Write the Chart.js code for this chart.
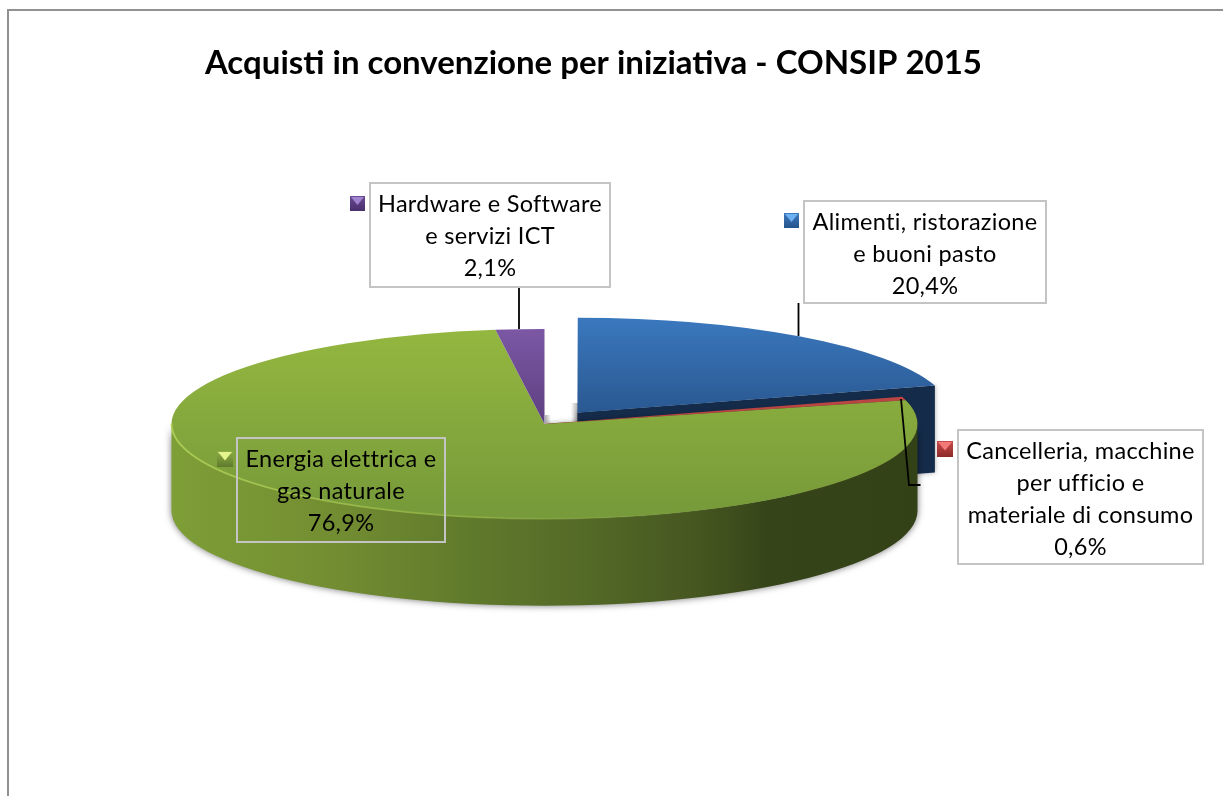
<!DOCTYPE html>
<html lang="it">
<head>
<meta charset="utf-8">
<title>Acquisti in convenzione per iniziativa - CONSIP 2015</title>
<style>
  html, body { margin: 0; padding: 0; background: #fff; }
  canvas { display: block; }
</style>
<script src="https://cdn.jsdelivr.net/npm/chart.js@4/dist/chart.umd.min.js"></script>
</head>
<body>
<canvas id="pie" width="1223" height="796"></canvas>
<script>
"use strict";

const TITLE = "Acquisti in convenzione per iniziativa - CONSIP 2015";
const categories = [
  "Alimenti, ristorazione e buoni pasto",
  "Cancelleria, macchine per ufficio e materiale di consumo",
  "Energia elettrica e gas naturale",
  "Hardware e Software e servizi ICT",
];
const values = [20.4, 0.6, 76.9, 2.1];
const labelLines = [
  ["Alimenti, ristorazione", "e buoni pasto"],
  ["Cancelleria, macchine", "per ufficio e", "materiale di consumo"],
  ["Energia elettrica e", "gas naturale"],
  ["Hardware e Software", "e servizi ICT"],
];

// ─── Look of the pie ───────────────────────────────────────────────────────

const RADIUS = 373;
const SQUASH = 95 / 373; // ellipse height / width of the top face
const DEPTH = 87;
const CENTER_Y = 424;
const BLUE_OFFSET = 220; // chart.js moves an arc by offset / 4

const TOP_COLORS = [
  ["#3a78be", "#2a5891"],
  ["#c0504d", "#b8423f"],
  ["#94b740", "#76993a"],
  ["#7c58a4", "#5d3f80"],
];
const CUT_COLORS = ["#142b4a", "#7f2c2a", "#4f6325", "#402b58"];

// label boxes: x, y, w, h and the marker square beside it
const LABEL_FONT = "23.5px Lato";
const LABEL_BOXES = [
  { x: 804, y: 201, w: 242, h: 102, fill: "#fff", mx: 784, my: 213, size: 15, base: ["#4079bc", "#24548c"], tip: "#6cb2f2" },
  { x: 958, y: 430, w: 245, h: 134, fill: "#fff", mx: 937, my: 441, size: 16, base: ["#c84a4a", "#8e2a28"], tip: "#f47a78" },
  { x: 237, y: 438, w: 208, h: 104, fill: null, mx: 217, my: 451, size: 16, base: ["#8fae48", "#5f7a2c"], tip: "#e4f58c" },
  { x: 370, y: 183, w: 240, h: 104, fill: "#fff", mx: 350, my: 196, size: 15, base: ["#6a4a94", "#49306c"], tip: "#a184cf" },
];
const LEADERS = [
  [[798.5, 303], [798.5, 336]],
  [[901, 399], [909, 485], [920.5, 485]],
  [],
  [[519, 287], [519, 329]],
];

function topGradient(context) {
  const { chart, dataIndex } = context;
  const cols = TOP_COLORS[dataIndex];
  const y0 = CENTER_Y - RADIUS;
  const y1 = dataIndex === 2 ? CENTER_Y + RADIUS : CENTER_Y;
  const g = chart.ctx.createLinearGradient(0, y0, 0, y1);
  g.addColorStop(0, cols[0]);
  g.addColorStop(1, cols[1]);
  return g;
}

// where an arc really sits once chart.js has applied its offset
function arcShape(arc) {
  const off = (arc.options.offset || 0) / 4;
  const mid = (arc.startAngle + arc.endAngle) / 2;
  const fix = 1 - Math.sin(Math.min(Math.PI, arc.circumference));
  return {
    x: arc.x + Math.cos(mid) * off,
    y: arc.y + Math.sin(mid) * off * SQUASH,
    r: arc.outerRadius + off * fix,
    start: arc.startAngle,
    end: arc.endAngle,
  };
}

function drawCut(ctx, s, angle, color) {
  const ex = s.x + Math.cos(angle) * s.r;
  const ey = s.y + Math.sin(angle) * s.r * SQUASH;
  ctx.fillStyle = color;
  ctx.beginPath();
  ctx.moveTo(s.x, s.y);
  ctx.lineTo(ex, ey);
  ctx.lineTo(ex, ey + DEPTH);
  ctx.lineTo(s.x, s.y + DEPTH);
  ctx.closePath();
  ctx.fill();
}

function drawFrontWall(ctx, s) {
  const a0 = Math.max(s.start, 0);
  const a1 = Math.min(s.end, Math.PI);
  if (a1 <= a0) return;
  const g = ctx.createLinearGradient(s.x - s.r, 0, s.x + s.r, 0);
  g.addColorStop(0, "#7e9e37");
  g.addColorStop(0.2, "#748f32");
  g.addColorStop(0.4, "#607a2c");
  g.addColorStop(0.55, "#546a27");
  g.addColorStop(0.7, "#465720");
  g.addColorStop(0.8, "#364519");
  g.addColorStop(1, "#334117");
  ctx.save();
  ctx.shadowColor = "rgba(0,0,0,0.55)";
  ctx.shadowBlur = 7;
  ctx.fillStyle = g;
  ctx.beginPath();
  ctx.ellipse(s.x, s.y, s.r, s.r * SQUASH, 0, a0, a1, false);
  ctx.ellipse(s.x, s.y + DEPTH, s.r, s.r * SQUASH, 0, a1, a0, true);
  ctx.closePath();
  ctx.fill();
  ctx.restore();
}

// soft grey patch the shadows leave at the foot of the gap
function drawGapShadow(ctx, x, y, w, h, fromRight) {
  const g = ctx.createLinearGradient(x, 0, x + w, 0);
  g.addColorStop(fromRight ? 0 : 1, "rgba(150,150,150,0)");
  g.addColorStop(fromRight ? 1 : 0, "rgba(150,150,150,0.8)");
  ctx.fillStyle = g;
  ctx.fillRect(x, y, w, h);
}

// ─── Plugins ───────────────────────────────────────────────────────────────

const framePlugin = {
  id: "frame",
  beforeDraw(chart) {
    const { ctx, width, height } = chart;
    ctx.save();
    ctx.strokeStyle = "#919191";
    ctx.lineWidth = 2;
    ctx.beginPath();
    ctx.moveTo(width, 10);
    ctx.lineTo(8, 10);
    ctx.lineTo(8, height);
    ctx.stroke();
    ctx.restore();
  },
};

const pie3dPlugin = {
  id: "pie3d",
  afterDatasetsUpdate(chart) {
    // the exploded arc is grown a little by chart.js, take that back
    const blue = chart.getDatasetMeta(0).data[0];
    blue.outerRadius -= 2.3;
  },
  beforeDatasetsDraw(chart) {
    const { ctx } = chart;
    const arcs = chart.getDatasetMeta(0).data;
    drawGapShadow(ctx, 545, 415, 6, 8, false);
    drawGapShadow(ctx, 571, 403, 7, 18, true);
    arcs.forEach((arc, i) => {
      const s = arcShape(arc);
      if (Math.cos(s.end) > 0) {
        ctx.save();
        ctx.shadowColor = "rgba(0,0,0,0.35)";
        ctx.shadowBlur = 5;
        drawCut(ctx, s, s.end, CUT_COLORS[i]);
        ctx.restore();
      }
      drawFrontWall(ctx, s);
    });
    // everything the library draws from here on is the flattened top face
    ctx.save();
    ctx.translate(0, CENTER_Y);
    ctx.scale(1, SQUASH);
    ctx.translate(0, -CENTER_Y);
  },
  afterDatasetsDraw(chart) {
    const { ctx } = chart;
    ctx.restore();
    const big = chart.getDatasetMeta(0).data[2];
    const s = arcShape(big);
    // light rim along the front of the top face
    const g = ctx.createLinearGradient(s.x - s.r, 0, s.x + s.r, 0);
    g.addColorStop(0, "rgba(176,208,88,0.9)");
    g.addColorStop(0.45, "rgba(150,182,70,0.55)");
    g.addColorStop(0.75, "rgba(130,160,60,0)");
    ctx.save();
    ctx.strokeStyle = g;
    ctx.lineWidth = 1.8;
    ctx.beginPath();
    ctx.ellipse(s.x, s.y, s.r, s.r * SQUASH, 0, 0, Math.PI, false);
    ctx.stroke();
    ctx.restore();
  },
  afterDraw(chart) {
    const { ctx } = chart;
    ctx.save();
    ctx.strokeStyle = "#000";
    ctx.lineWidth = 1.8;
    LEADERS.forEach((pts) => {
      if (!pts.length) return;
      ctx.beginPath();
      pts.forEach((p, j) => (j ? ctx.lineTo(p[0], p[1]) : ctx.moveTo(p[0], p[1])));
      ctx.stroke();
    });
    LABEL_BOXES.forEach((b, i) => {
      if (b.fill) {
        ctx.fillStyle = b.fill;
        ctx.fillRect(b.x, b.y, b.w, b.h);
      }
      ctx.strokeStyle = "#c4c4c4";
      ctx.lineWidth = 2;
      ctx.strokeRect(b.x, b.y, b.w, b.h);

      // bevelled marker
      const g = ctx.createLinearGradient(0, b.my, 0, b.my + b.size);
      g.addColorStop(0, b.base[0]);
      g.addColorStop(1, b.base[1]);
      ctx.fillStyle = g;
      ctx.fillRect(b.mx, b.my, b.size, b.size);
      ctx.fillStyle = b.tip;
      ctx.beginPath();
      ctx.moveTo(b.mx + 1, b.my + 1);
      ctx.lineTo(b.mx + b.size - 1, b.my + 1);
      ctx.lineTo(b.mx + b.size / 2, b.my + b.size * 0.6);
      ctx.closePath();
      ctx.fill();

      const lines = labelLines[i].concat(values[i].toFixed(1).replace(".", ",") + "%");
      ctx.fillStyle = "#000";
      ctx.font = LABEL_FONT;
      ctx.letterSpacing = "0.3px";
      ctx.textAlign = "center";
      ctx.textBaseline = "alphabetic";
      lines.forEach((line, j) => {
        ctx.fillText(line, b.x + b.w / 2, b.y + 28.5 + j * 32);
      });
    });
    ctx.restore();
  },
};

// ─── Chart ─────────────────────────────────────────────────────────────────

new Chart(document.getElementById("pie").getContext("2d"), {
  type: "pie",
  plugins: [framePlugin, pie3dPlugin],
  data: {
    labels: categories,
    datasets: [
      {
        data: values,
        clip: false,
        borderWidth: 0,
        radius: RADIUS,
        backgroundColor: topGradient,
        offset: (context) => (context.dataIndex === 0 ? BLUE_OFFSET : 0),
      },
    ],
  },
  options: {
    responsive: false,
    animation: false,
    radius: RADIUS,
    // box runs 107..982 so its centre is the pie centre and the title ends at 982
    layout: { padding: { left: 107, right: 241, top: 44, bottom: 32 } },
    plugins: {
      legend: { display: false },
      tooltip: { enabled: false },
      title: {
        display: true,
        text: TITLE,
        align: "end",
        color: "#000",
        padding: 0,
        font: { family: "Lato", size: 33, weight: "bold", lineHeight: 1.2 },
      },
    },
  },
});
</script>
</body>
</html>
